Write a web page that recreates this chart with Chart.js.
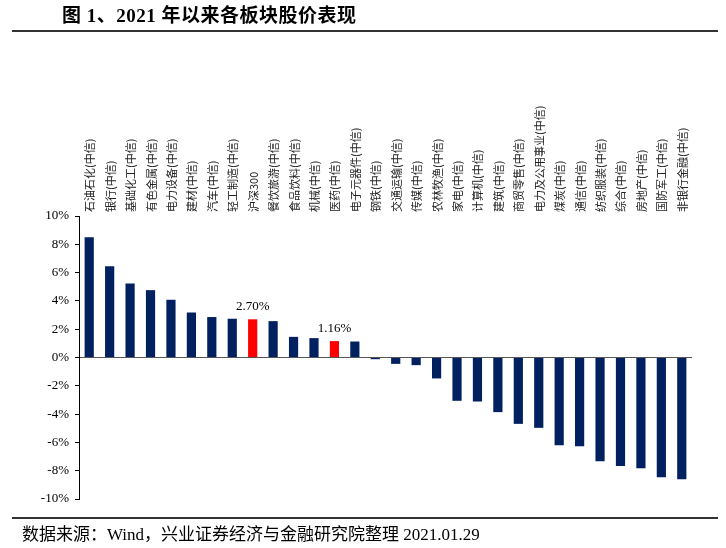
<!DOCTYPE html>
<html>
<head>
<meta charset="utf-8">
<script src="https://cdn.jsdelivr.net/npm/chart.js@4"></script>
<style>
  html, body { margin: 0; padding: 0; background: #fff; width: 726px; height: 548px; overflow: hidden; }
  #wrap { position: absolute; left: 0; top: 0; width: 726px; height: 548px; }
  #title { position: absolute; left: 62px; top: 0px; font-family: "Liberation Serif", "Noto Sans CJK SC", serif; font-weight: bold; font-size: 19px; letter-spacing: 0.5px; color: #000; white-space: nowrap; z-index: 2; }
  #topline { position: absolute; left: 12px; top: 30px; width: 706px; height: 0; border-top: 2px solid #333; z-index: 2; }
  #botline { position: absolute; left: 12px; top: 517px; width: 706px; height: 0; border-top: 2px solid #333; z-index: 2; }
  #source { position: absolute; left: 22px; top: 520px; font-family: "Liberation Serif", "Noto Sans CJK SC", serif; font-size: 17px; color: #000; white-space: nowrap; z-index: 2; }
</style>
</head>
<body>
<div id="title">图 1、2021 年以来各板块股价表现</div>
<div id="topline"></div>
<div id="wrap"><canvas id="c"></canvas></div>
<div id="botline"></div>
<div id="source">数据来源：Wind，兴业证券经济与金融研究院整理 2021.01.29</div>
<script>
const categories = ["石油石化(中信)","银行(中信)","基础化工(中信)","有色金属(中信)","电力设备(中信)","建材(中信)","汽车(中信)","轻工制造(中信)","沪深300","餐饮旅游(中信)","食品饮料(中信)","机械(中信)","医药(中信)","电子元器件(中信)","钢铁(中信)","交通运输(中信)","传媒(中信)","农林牧渔(中信)","家电(中信)","计算机(中信)","建筑(中信)","商贸零售(中信)","电力及公用事业(中信)","煤炭(中信)","通信(中信)","纺织服装(中信)","综合(中信)","房地产(中信)","国防军工(中信)","非银行金融(中信)"];
const returns = [8.49, 6.44, 5.23, 4.76, 4.08, 3.18, 2.86, 2.74, 2.70, 2.57, 1.46, 1.37, 1.16, 1.13, -0.12, -0.45, -0.54, -1.48, -3.06, -3.11, -3.86, -4.69, -4.97, -6.20, -6.27, -7.33, -7.66, -7.82, -8.46, -8.60];
const highlighted = ["沪深300", "医药(中信)"];
const valueLabels = {"沪深300": "2.70%", "医药(中信)": "1.16%"};
const yTicks = [-10, -8, -6, -4, -2, 0, 2, 4, 6, 8, 10];

const navy = "#002060";
const red = "#FF0000";

const labelPlugin = {
  id: "valueLabels",
  afterDatasetsDraw(chart) {
    const ctx = chart.ctx;
    const meta = chart.getDatasetMeta(0);
    ctx.save();
    ctx.font = "13px 'Liberation Serif', serif";
    ctx.fillStyle = "#000";
    ctx.textAlign = "center";
    ctx.textBaseline = "bottom";
    categories.forEach((c, i) => {
      if (valueLabels[c]) {
        const el = meta.data[i];
        ctx.fillText(valueLabels[c], el.x, el.y - 6);
      }
    });
    ctx.restore();
  }
};

new Chart(document.getElementById("c"), {
  type: "bar",
  data: {
    labels: categories,
    datasets: [{
      data: returns,
      backgroundColor: categories.map(c => highlighted.includes(c) ? red : navy),
      barPercentage: 0.45,
      categoryPercentage: 1.0
    }]
  },
  options: {
    responsive: true,
    maintainAspectRatio: false,
    animation: false,
    devicePixelRatio: 1,
    layout: { padding: { left: 0, right: 34, top: 0, bottom: 49 } },
    plugins: { legend: { display: false }, tooltip: { enabled: false } },
    scales: {
      x: {
        position: "top",
        grid: { display: false, drawTicks: false },
        border: { display: false },
        ticks: {
          autoSkip: false,
          maxRotation: 90,
          minRotation: 90,
          padding: 4,
          labelOffset: 14,
          color: "#222",
          font: { family: "'Noto Sans CJK SC', sans-serif", size: 11 }
        },
        afterFit(s) { s.height = 216; }
      },
      y: {
        min: -10,
        max: 10,
        afterBuildTicks(s) { s.ticks = yTicks.map(v => ({ value: v })); },
        grid: {
          drawOnChartArea: true,
          color: ctx => (ctx.tick && ctx.tick.value === 0) ? "#555" : "rgba(0,0,0,0)",
          tickColor: "#000",
          tickLength: 4,
          lineWidth: 1
        },
        border: { display: true, color: "#000", width: 1 },
        ticks: {
          padding: 6,
          color: "#000",
          font: { family: "'Liberation Serif', serif", size: 13 },
          callback: v => v + "%"
        },
        afterFit(s) { s.width = 79; }
      }
    }
  },
  plugins: [labelPlugin]
});
</script>
</body>
</html>
